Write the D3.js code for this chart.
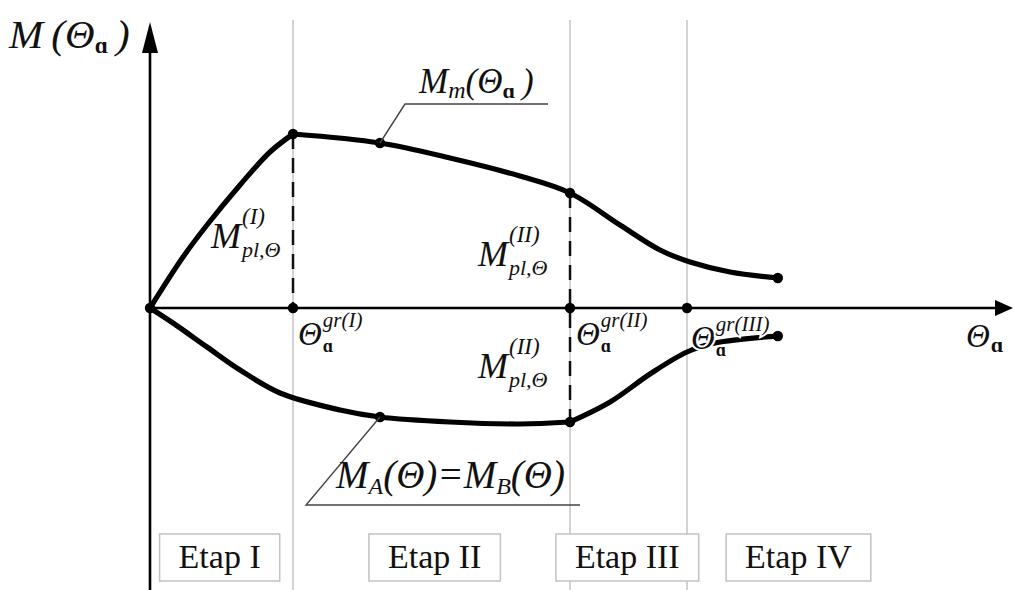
<!DOCTYPE html>
<html>
<head>
<meta charset="utf-8">
<script src="https://cdn.jsdelivr.net/npm/d3@7"></script>
<style>
  html, body { margin: 0; padding: 0; background: #fff; }
  svg { display: block; }
  text { font-family: "Liberation Serif", "DejaVu Serif", serif; fill: #111; }
  .it { font-style: italic; }
</style>
</head>
<body>
<svg id="chart" width="1014" height="590"></svg>
<script>
// Rotation angle thresholds between the stages
const thetaGr = [1.663, 4.884, 6.244];
const grLabels = ["gr(I)", "gr(II)", "gr(III)"];

// Midspan moment M_m(Θ) – upper curve
const upperTheta = [0, 0.384, 0.663, 1.047, 1.395, 1.663, 2.674, 3.488, 4.30, 4.884, 5.465, 5.93, 6.28, 6.744, 7.30];
const upperM     = [0, 0.51, 0.83, 1.23, 1.56, 1.74, 1.65, 1.50, 1.32, 1.15, 0.83, 0.58, 0.46, 0.36, 0.30];

// Support moments M_A(Θ) = M_B(Θ) – lower curve
const lowerTheta = [0, 0.267, 0.663, 1.047, 1.512, 2.21, 2.674, 3.488, 4.30, 4.884, 5.35, 5.814, 6.244, 6.57, 7.30];
const lowerM     = [0, -0.15, -0.39, -0.62, -0.85, -1.02, -1.09, -1.14, -1.16, -1.14, -0.94, -0.66, -0.44, -0.35, -0.28];

// Stage names and their centres on the Θ axis
const stages = ["Etap I", "Etap II", "Etap III", "Etap IV"];
const stageCentres = [0.81, 3.31, 5.55, 7.54];

const svg = d3.select("#chart");
const x = d3.scaleLinear().domain([0, 10]).range([150, 1010]);
const y = d3.scaleLinear().domain([-2.8, 2.9]).range([588, 18]);

const upper = upperTheta.map((t, i) => [t, upperM[i]]);
const lower = lowerTheta.map((t, i) => [t, lowerM[i]]);

// stage separators
svg.append("g").selectAll("line").data(thetaGr).join("line")
  .attr("x1", d => x(d)).attr("x2", d => x(d))
  .attr("y1", 20).attr("y2", 590)
  .attr("stroke", "#c4c4c4").attr("stroke-width", 1.5);

// dashed plastic-moment markers
svg.append("line")
  .attr("x1", x(thetaGr[0])).attr("x2", x(thetaGr[0]))
  .attr("y1", y(upperM[5])).attr("y2", y(0))
  .attr("stroke", "#111").attr("stroke-width", 2.5).attr("stroke-dasharray", "15,9");
svg.append("line")
  .attr("x1", x(thetaGr[1])).attr("x2", x(thetaGr[1]))
  .attr("y1", y(upperM[9])).attr("y2", y(lowerM[9]))
  .attr("stroke", "#111").attr("stroke-width", 2.5).attr("stroke-dasharray", "15,9");

// axes with arrow heads
const axisG = svg.append("g");
axisG.append("line").attr("x1", x(0)).attr("x2", 998).attr("y1", y(0)).attr("y2", y(0))
  .attr("stroke", "#000").attr("stroke-width", 2.6);
axisG.append("path").attr("d", `M1013,${y(0)} L995,${y(0) - 8} L995,${y(0) + 8} Z`).attr("fill", "#000");
axisG.append("line").attr("x1", x(0)).attr("x2", x(0)).attr("y1", 590).attr("y2", 45)
  .attr("stroke", "#000").attr("stroke-width", 2.6);
axisG.append("path").attr("d", `M${x(0)},22 L${x(0) - 8},53 L${x(0) + 8},53 Z`).attr("fill", "#000");

// curves, split at their corners
const line = d3.line().x(d => x(d[0])).y(d => y(d[1])).curve(d3.curveCatmullRom.alpha(0.5));
const segs = [upper.slice(0, 6), upper.slice(5), lower.slice(0, 10), lower.slice(9)];
svg.append("g").selectAll("path").data(segs).join("path")
  .attr("d", line).attr("fill", "none").attr("stroke", "#000")
  .attr("stroke-width", 5.2).attr("stroke-linejoin", "round").attr("stroke-linecap", "round");

// characteristic points
const dots = [upper[5], upper[6], upper[9], upper[14], lower[6], lower[9], lower[14],
  [0, 0], ...thetaGr.map(t => [t, 0])];
svg.append("g").selectAll("circle").data(dots).join("circle")
  .attr("cx", d => x(d[0])).attr("cy", d => y(d[1])).attr("r", 5.2).attr("fill", "#000");

// leader lines to curve names
const pu = [x(upper[6][0]), y(upper[6][1])];
const pl = [x(lower[6][0]), y(lower[6][1])];
svg.append("polyline").attr("points", `${pu[0]},${pu[1]} ${pu[0] + 25},104 548,104`)
  .attr("fill", "none").attr("stroke", "#444").attr("stroke-width", 1.4);
svg.append("polyline").attr("points", `${pl[0]},${pl[1]} 306,505 580,505`)
  .attr("fill", "none").attr("stroke", "#444").attr("stroke-width", 1.4);

// helper: base symbol with stacked superscript and subscript
function stacked(px, py, size, base, sup, sub, supSize, subSize, supDy, subDy, halo) {
  const g = svg.append("g");
  const b = g.append("text").attr("class", "it").attr("x", px).attr("y", py)
    .attr("font-size", size).text(base);
  const w = b.node().getComputedTextLength();
  const sp = g.append("text").attr("class", "it").attr("x", px + w + 1).attr("y", py + supDy)
    .attr("font-size", supSize).text(sup);
  const sb = g.append("text").attr("x", px + w + 1).attr("y", py + subDy)
    .attr("font-size", subSize).text(sub);
  if (halo) [b, sp, sb].forEach(t => t.attr("stroke", "#fff").attr("stroke-width", 4)
      .attr("paint-order", "stroke"));
  return sb;
}

// axis titles
const yt = svg.append("text").attr("class", "it").attr("x", 9).attr("y", 48).attr("font-size", 41);
yt.append("tspan").text("M\u2009(Θ");
yt.append("tspan").attr("dy", 5).attr("font-size", 23).attr("font-style", "normal").attr("font-weight", "bold").text("ɑ");
yt.append("tspan").attr("dy", -5).text("\u2009)");

stacked(966, 347, 33, "Θ", "", "ɑ", 20, 22, -14, 5, false).attr("font-weight", "bold");

// tick labels at the stage thresholds
const tickPos = [[298, 345], [576, 345], [691, 349]];
thetaGr.forEach((t, i) => {
  const sb = stacked(tickPos[i][0], tickPos[i][1], 33, "Θ", grLabels[i], "ɑ", 21, 18, -18, 7, i === 2);
  sb.attr("font-style", "normal").attr("font-weight", "bold");
});

// curve names
const mm = svg.append("text").attr("class", "it").attr("x", 419).attr("y", 93).attr("font-size", 35);
mm.append("tspan").text("M");
mm.append("tspan").attr("dy", 5).attr("font-size", 24).text("m");
mm.append("tspan").attr("dy", -5).text("(Θ");
mm.append("tspan").attr("dy", 5).attr("font-size", 22).attr("font-style", "normal").attr("font-weight", "bold").text("ɑ");
mm.append("tspan").attr("dy", -5).text("\u2009)");

const ma = svg.append("text").attr("class", "it").attr("x", 336).attr("y", 488).attr("font-size", 39);
ma.append("tspan").text("M");
ma.append("tspan").attr("dy", 6).attr("font-size", 24).text("A");
ma.append("tspan").attr("dy", -6).text("(Θ)=M");
ma.append("tspan").attr("dy", 6).attr("font-size", 24).text("B");
ma.append("tspan").attr("dy", -6).text("(Θ)");

// plastic moment labels
stacked(211, 248, 36, "M", "(I)", "pl,Θ", 23, 22, -24, 9, false).attr("font-style", "italic");
stacked(478, 266, 36, "M", "(II)", "pl,Θ", 23, 22, -24, 9, false).attr("font-style", "italic");
stacked(478, 378, 36, "M", "(II)", "pl,Θ", 23, 22, -24, 9, false).attr("font-style", "italic");

// stage boxes
const sg = svg.append("g").selectAll("g").data(stages).join("g");
sg.each(function (d, i) {
  const g = d3.select(this);
  const r = g.append("rect");
  const t = g.append("text").attr("x", x(stageCentres[i])).attr("y", 568)
    .attr("text-anchor", "middle").attr("font-size", 34).text(d);
  const w = t.node().getComputedTextLength() + 38;
  r.attr("x", x(stageCentres[i]) - w / 2).attr("y", 534).attr("width", w).attr("height", 47)
    .attr("fill", "#fff").attr("stroke", "#c2c2c2").attr("stroke-width", 1.5);
});
</script>
</body>
</html>
